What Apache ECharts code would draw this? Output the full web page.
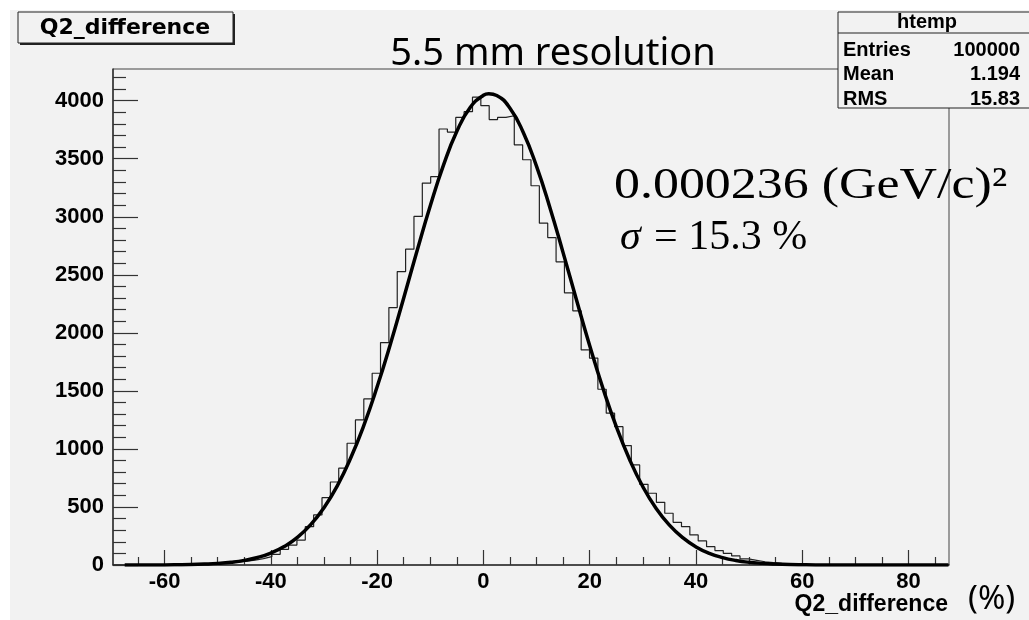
<!DOCTYPE html>
<html>
<head>
<meta charset="utf-8">
<script src="https://cdn.jsdelivr.net/npm/echarts@6/dist/echarts.min.js"></script>
<style>
  html, body { margin: 0; padding: 0; background: #ffffff; }
  #chart { width: 1029px; height: 620px; }
</style>
</head>
<body>
<div id="chart"></div>
<script>
// histogram htemp : 100 bins
const histMin = -69.7;
const binWidth = 1.573;
const binCounts = [
  0, 0, 0, 0, 0, 1, 1, 2, 3, 4,
  6, 9, 13, 18, 25, 34, 42, 55, 72, 92,
  135, 172, 215, 330, 431, 580, 715, 834, 1049, 1250,
  1431, 1652, 1916, 2218, 2528, 2721, 3003, 3290, 3345, 3756,
  3730, 3856, 3905, 4030, 3957, 3837, 3856, 3870, 3620, 3491,
  3267, 2945, 2821, 2612, 2345, 2190, 1853, 1782, 1514, 1308,
  1192, 1029, 862, 695, 618, 540, 446, 368, 330, 259,
  207, 158, 124, 101, 78, 52, 40, 28, 20, 14,
  10, 7, 5, 4, 3, 2, 1, 1, 0, 0,
  0, 0, 0, 0, 0, 0, 0, 0, 0, 0
];

// gaussian fit
const fitX = [
  -67.5, -65, -62.5, -60, -57.5, -55, -52.5, -50, -47.5, -45,
  -42.5, -40, -37.5, -35, -32.5, -30, -27.5, -25, -22.5, -20,
  -17.5, -15, -12.5, -10, -7.5, -5, -2.5, 0, 1, 2.5, 5,
  7.5, 10, 12.5, 15, 17.5, 20, 22.5, 25, 27.5, 30,
  32.5, 35, 37.5, 40, 42.5, 45, 47.5, 50, 52.5, 55,
  57.5, 60, 62.5, 65, 67.5, 70, 72.5, 75, 77.5, 80,
  82.5, 85, 87.5
];
const fitY = [
  0, 0, 1, 1, 2, 4, 8, 14, 24, 40,
  65, 103, 159, 238, 348, 494, 682, 919, 1203, 1535,
  1904, 2301, 2705, 3095, 3447, 3736, 3941, 4047, 4060, 4045, 3935,
  3726, 3434, 3080, 2689, 2285, 1889, 1521, 1192, 909, 674,
  487, 343, 235, 156, 101, 64, 39, 23, 14, 8,
  4, 2, 1, 1, 0, 0, 0, 0, 0, 0,
  0, 0, 0
];

const xMajorTicks = [-60, -40, -20, 0, 20, 40, 60, 80];
const xMinorTicks = [-65, -55, -50, -45, -35, -30, -25, -15, -10, -5, 5, 10, 15, 25, 30, 35, 45, 50, 55, 65, 70, 75, 85];
const yMajorTicks = [0, 500, 1000, 1500, 2000, 2500, 3000, 3500, 4000];
const yMinorTicks = [100, 200, 300, 400, 600, 700, 800, 900, 1100, 1200, 1300, 1400, 1600, 1700, 1800, 1900,
  2100, 2200, 2300, 2400, 2600, 2700, 2800, 2900, 3100, 3200, 3300, 3400, 3600, 3700, 3800, 3900, 4100, 4200];
const yMax = 4273;

const histName = 'htemp';
const varName = 'Q2_difference';
const statsRows = [['Entries', '100000'], ['Mean', '1.194'], ['RMS', '15.83']];
const plotTitle = '5.5 mm resolution';
const noteLine1 = '0.000236 (GeV/c)²';
const sigmaText = '= 15.3 %';

// step outline: one point per bin low edge, plus the last upper edge
const histLine = binCounts.map((c, i) => [histMin + i * binWidth, c]);
histLine.push([histMin + binCounts.length * binWidth, binCounts[binCounts.length - 1]]);
const fitLine = fitX.map((x, i) => [x, fitY[i]]);

const labelFont = { fontFamily: 'Liberation Sans', fontWeight: 'bold', fontSize: 22, color: '#000' };
const bg = '#f2f2f2';
const plain = v => String(v);

const chart = echarts.init(document.getElementById('chart'));

const option = {
  backgroundColor: '#ffffff',
  animation: false,
  grid: {
    left: 113, top: 69, right: 80, bottom: 55,
    show: true, backgroundColor: bg, borderColor: '#444', borderWidth: 1
  },
  xAxis: [{
    type: 'value',
    min: histMin,
    max: histMin + binCounts.length * binWidth,
    axisLine: { show: true, onZero: false, lineStyle: { color: '#333', width: 1.5 } },
    axisTick: { show: true, inside: true, length: 15, customValues: xMajorTicks, lineStyle: { color: '#333', width: 1.2 } },
    axisLabel: Object.assign({ customValues: xMajorTicks, margin: 6, formatter: plain }, labelFont),
    splitLine: { show: false }
  }, {
    type: 'value',
    min: histMin,
    max: histMin + binCounts.length * binWidth,
    position: 'bottom',
    axisLine: { show: false, onZero: false },
    axisTick: { show: true, inside: true, length: 8, customValues: xMinorTicks, lineStyle: { color: '#333', width: 1.2 } },
    axisLabel: { show: false },
    splitLine: { show: false }
  }],
  yAxis: [{
    type: 'value',
    min: 0,
    max: yMax,
    axisLine: { show: true, onZero: false, lineStyle: { color: '#333', width: 1.5 } },
    axisTick: { show: true, inside: true, length: 25, customValues: yMajorTicks, lineStyle: { color: '#333', width: 1.2 } },
    axisLabel: Object.assign({ customValues: yMajorTicks, margin: 9, formatter: plain }, labelFont),
    splitLine: { show: false }
  }, {
    type: 'value',
    min: 0,
    max: yMax,
    position: 'left',
    axisLine: { show: false, onZero: false },
    axisTick: { show: true, inside: true, length: 13, customValues: yMinorTicks, lineStyle: { color: '#333', width: 1.2 } },
    axisLabel: { show: false },
    splitLine: { show: false }
  }],
  series: [{
    name: histName,
    type: 'line',
    step: 'end',
    data: histLine,
    symbol: 'none',
    lineStyle: { color: '#222', width: 1.2 },
    z: 3
  }, {
    name: 'fit',
    type: 'line',
    smooth: true,
    data: fitLine,
    symbol: 'none',
    lineStyle: { color: '#000', width: 3.5 },
    z: 4
  }],
  graphic: [
    { type: 'rect', z: -100, shape: { x: 10, y: 10, width: 1019, height: 610 }, style: { fill: bg } },
    // title box with shadow
    { type: 'rect', z: 50, shape: { x: 20, y: 14, width: 215, height: 31 }, style: { fill: '#222' } },
    { type: 'rect', z: 51, shape: { x: 18, y: 12, width: 215, height: 31 }, style: { fill: bg, stroke: '#222', lineWidth: 1 } },
    { type: 'text', z: 52, style: { x: 125, y: 28, text: varName, align: 'center', verticalAlign: 'middle',
      fontFamily: 'DejaVu Sans', fontWeight: 'bold', fontSize: 22, fill: '#000' } },
    // stats box
    { type: 'rect', z: 50, shape: { x: 838, y: 12, width: 200, height: 96 }, style: { fill: bg, stroke: '#222', lineWidth: 1 } },
    { type: 'line', z: 51, shape: { x1: 838, y1: 33, x2: 1029, y2: 33 }, style: { stroke: '#222', lineWidth: 1 } },
    { type: 'text', z: 52, style: { x: 927, y: 22, text: histName, align: 'center', verticalAlign: 'middle',
      fontFamily: 'Liberation Sans', fontWeight: 'bold', fontSize: 20, fill: '#000' } },
    ...statsRows.flatMap((r, i) => [
      { type: 'text', z: 52, style: { x: 843, y: 50 + i * 24.5, text: r[0], align: 'left', verticalAlign: 'middle',
        fontFamily: 'Liberation Sans', fontWeight: 'bold', fontSize: 20, fill: '#000' } },
      { type: 'text', z: 52, style: { x: 1020, y: 50 + i * 24.5, text: r[1], align: 'right', verticalAlign: 'middle',
        fontFamily: 'Liberation Sans', fontWeight: 'bold', fontSize: 20, fill: '#000' } }
    ]),
    // plot title
    { type: 'text', z: 52, style: { x: 553, y: 54, text: plotTitle, align: 'center', verticalAlign: 'middle',
      fontFamily: 'Noto Sans', fontSize: 38, fill: '#000' } },
    // fit annotation (stretched horizontally like the slide)
    { type: 'text', z: 52, x: 614, y: 186, scaleX: 1.18, style: { x: 0, y: 0, text: noteLine1, align: 'left', verticalAlign: 'middle',
      fontFamily: 'Liberation Serif', fontSize: 44, fill: '#000' } },
    { type: 'text', z: 52, style: { x: 620, y: 238, text: 'σ', align: 'left', verticalAlign: 'middle',
      fontFamily: 'Liberation Serif', fontStyle: 'italic', fontSize: 42, fill: '#000' } },
    { type: 'text', z: 52, style: { x: 654, y: 238, text: sigmaText, align: 'left', verticalAlign: 'middle',
      fontFamily: 'Liberation Serif', fontSize: 42, fill: '#000' } },
    // axis title + unit
    { type: 'text', z: 52, style: { x: 948, y: 605, text: varName, align: 'right', verticalAlign: 'middle',
      fontFamily: 'Liberation Sans', fontWeight: 'bold', fontSize: 23, fill: '#000' } },
    { type: 'text', z: 52, style: { x: 968, y: 600, text: '(%)', align: 'left', verticalAlign: 'middle',
      fontFamily: 'Noto Sans', fontSize: 33, fill: '#000' } }
  ]
};

chart.setOption(option);
window.addEventListener('resize', function () { chart.resize(); });
</script>
</body>
</html>
